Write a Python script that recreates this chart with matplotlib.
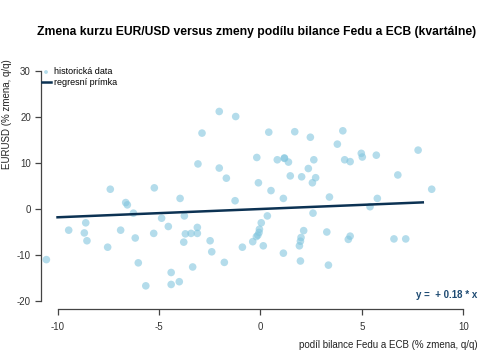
import numpy as np
import matplotlib.pyplot as plt

plt.rcParams['font.family'] = ['Liberation Sans', 'DejaVu Sans']
plt.rcParams['axes.unicode_minus'] = False

# podil bilance Fedu a ECB (% zmena, q/q) vs. EURUSD (% zmena, q/q)
fed_ecb = [-10.55, -7.4, -5.23, -6.64, -6.56, -6.26, -4.87, -4.54, -8.61, -9.45,
           -8.68, -8.55, -6.89, -6.17, -5.26, -7.53, -6.02, -5.65, -4.4, -4.4,
           -1.68, -0.1, 0.52, 1.13, -3.96, -1.25, 3.4, -3.75, -3.11, -3.7,
           -3.42, -3.11, -3.78, -2.48, -2.4, -1.78, -3.34, -4.0, 2.59, 0.34,
           0.04, -0.05, -0.07, -0.13, -0.2, -0.38, -0.89, 0.14, 1.13, 2.13,
           2.0, 1.97, 1.92, 1.97, 3.27, 3.35, 5.76, 5.4, 8.44, 4.42,
           4.33, 6.58, 7.16, -2.03, -1.22, -2.88, 0.41, 1.69, 2.46, -3.08,
           -2.03, -0.18, 0.83, 1.18, 1.18, 1.38, 2.63, 2.36, 1.47, 2.03,
           2.72, 2.56, 4.06, 3.79, 4.15, 4.42, 4.97, 5.02, 5.71, 7.77,
           6.77]
eurusd = [-11.0, 4.3, 4.6, 1.4, 0.9, -0.9, -2.0, -3.8, -3.0, -4.6,
          -5.2, -6.9, -4.6, -6.3, -5.3, -8.3, -11.7, -16.7, -13.8, -16.4,
          6.7, 5.7, 4.0, 2.3, 2.3, 1.8, 2.6, -1.5, -4.0, -5.4,
          -5.3, -5.3, -7.2, -6.9, -9.3, -11.6, -12.6, -15.8, -0.9, -1.5,
          -3.0, -4.4, -5.1, -5.7, -6.0, -7.1, -8.3, -8.0, -9.6, -4.7,
          -6.2, -7.0, -8.0, -11.3, -5.0, -12.2, 2.3, 0.5, 4.3, -5.9,
          -6.6, -6.5, -6.5, 21.2, 20.1, 16.5, 16.7, 16.8, 15.6, 9.8,
          8.9, 11.2, 10.7, 11.0, 11.1, 10.2, 10.7, 8.8, 7.2, 7.0,
          6.8, 5.7, 17.0, 14.1, 10.7, 10.3, 12.1, 11.3, 11.7, 12.8,
          7.4]

slope = 0.18
line_x = [-10, 8]
x_ticks = [-10, -5, 0, 5, 10]
y_ticks = [-20, -10, 0, 10, 20, 30]

fig = plt.figure(figsize=(5, 3.51), dpi=100)
ax = fig.add_axes([0.0826, 0.1188, 0.8774, 0.696])

ax.scatter(fed_ecb, eurusd, s=30, color='#82c6de', alpha=0.6, edgecolors='none',
           label='historická data', zorder=2)
ax.plot(line_x, [slope * v for v in line_x], color='#0c3253', linewidth=1.8,
        label='regresní prímka', zorder=3)

ax.set_xlim(-10.8, 10.82)
ax.set_ylim(-21.8, 31.3)
ax.set_xticks(x_ticks)
ax.set_yticks(y_ticks)

# R-style axes: lines only over the tick range
for side in ['top', 'right']:
    ax.spines[side].set_visible(False)
ax.spines['left'].set_bounds(-20, 30)
ax.spines['bottom'].set_bounds(-10, 10)
for side in ['left', 'bottom']:
    ax.spines[side].set_color('#444444')
    ax.spines[side].set_linewidth(0.9)
ax.tick_params(colors='#444444', labelcolor='#333333', labelsize=7, length=4, width=0.9)
ax.tick_params(axis='x', pad=5)

ax.set_ylabel('EURUSD (% zmena, q/q)', fontsize=7, color='#222222')
ax.yaxis.set_label_coords(-0.066, 0.8)
fig.text(0.955, 0.003, 'podíl bilance Fedu a ECB (% zmena, q/q)', fontsize=7,
         color='#222222', ha='right', va='bottom')

fig.suptitle('Zmena kurzu EUR/USD versus zmeny podílu bilance Fedu a ECB (kvartálne)',
             fontsize=8.7, fontweight='bold', x=0.513, y=0.925)

ax.text(0.955, 0.16, 'y =  + 0.18 * x', transform=fig.transFigure, fontsize=7,
        fontweight='bold', color='#1d4a72', ha='right', va='center')

ax.legend(loc='upper left', bbox_to_anchor=(0.083, 0.808), bbox_transform=fig.transFigure,
          frameon=False, fontsize=6.5, handlelength=1.0, handletextpad=0.4,
          labelspacing=0.2, markerscale=0.5, borderaxespad=0, borderpad=0)

fig.savefig('out.png', dpi=100)
